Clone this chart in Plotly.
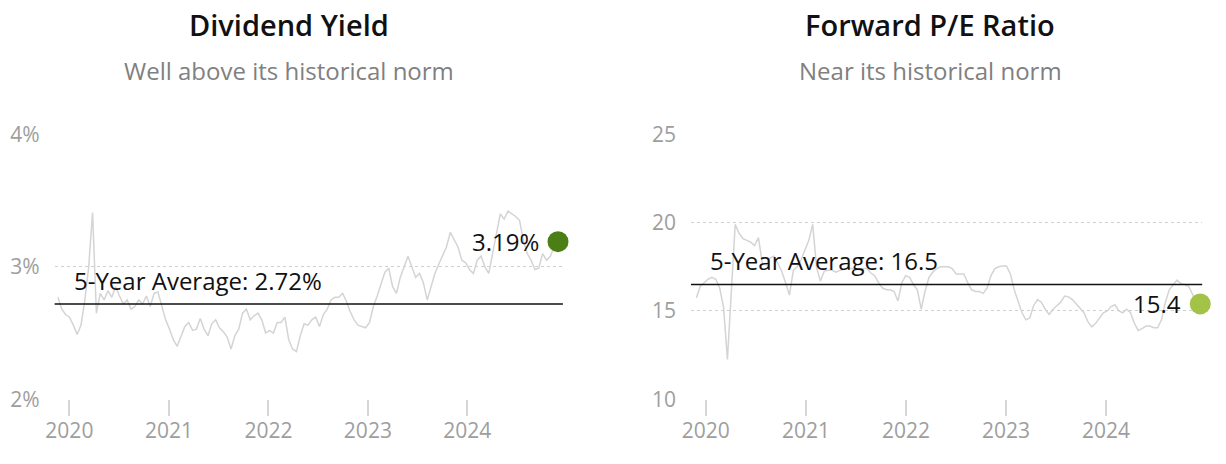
import pandas as pd
import plotly.graph_objects as go

# ---------------- data ----------------
div_dates = pd.date_range("2019-11-20", "2024-11-29", periods=131)
div_yield = [
    2.77, 2.68, 2.64, 2.62, 2.56, 2.49, 2.56, 2.75, 3.00, 3.41,
    2.65, 2.80, 2.75, 2.82, 2.77, 2.85, 2.78, 2.72, 2.75, 2.68,
    2.70, 2.75, 2.72, 2.78, 2.70, 2.80, 2.81, 2.70, 2.60, 2.53,
    2.45, 2.40, 2.47, 2.55, 2.58, 2.52, 2.53, 2.61, 2.53, 2.48,
    2.57, 2.60, 2.54, 2.51, 2.47, 2.38, 2.48, 2.53, 2.65, 2.68,
    2.60, 2.63, 2.65, 2.60, 2.50, 2.52, 2.50, 2.58, 2.58, 2.62,
    2.45, 2.38, 2.36, 2.48, 2.57, 2.56, 2.60, 2.62, 2.55, 2.64,
    2.68, 2.75, 2.77, 2.77, 2.80, 2.74, 2.66, 2.60, 2.56, 2.55,
    2.54, 2.58, 2.70, 2.78, 2.88, 2.96, 2.99, 2.85, 2.80, 2.92,
    3.00, 3.08, 3.00, 2.92, 2.95, 2.88, 2.75, 2.85, 2.95, 3.02,
    3.08, 3.15, 3.26, 3.20, 3.15, 3.05, 3.03, 2.98, 2.95, 3.05,
    3.08, 3.00, 2.95, 3.10, 3.25, 3.40, 3.36, 3.42, 3.40, 3.38,
    3.35, 3.20, 3.10, 3.05, 2.98, 2.99, 3.10, 3.05, 3.08, 3.15,
    3.19,
]
div_avg = 2.72
div_last_label = "3.19%"
div_ticks = [2, 3, 4]
div_tick_labels = ["2%", "3%", "4%"]

pe_dates = pd.date_range("2019-11-28", "2024-12-10", periods=131)
pe_ratio = [
    15.75, 16.4, 16.6, 16.8, 16.9, 16.8, 16.3, 15.2, 12.26, 16.3,
    19.9, 19.4, 19.1, 19.0, 18.9, 18.7, 19.15, 17.7, 17.6, 18.0,
    18.1, 17.7, 17.25, 16.6, 15.9, 17.3, 17.5, 17.9, 18.5, 19.0,
    19.9, 17.45, 16.7, 17.26, 17.3, 17.3, 17.2, 17.3, 17.35, 17.4,
    17.4, 17.35, 17.35, 17.4, 17.4, 17.15, 17.0, 16.6, 16.3, 16.2,
    16.2, 16.1, 15.57, 16.6, 17.0, 16.9, 16.5, 16.2, 15.1, 16.13,
    16.9, 17.2, 17.4, 17.5, 17.5, 17.5, 17.4, 17.1, 17.1, 17.1,
    16.6, 16.2, 16.1, 16.1, 16.0, 16.3, 17.0, 17.4, 17.5, 17.55,
    17.55, 17.1, 16.2, 15.5, 14.9, 14.5, 14.6, 15.3, 15.65, 15.5,
    15.1, 14.8, 15.1, 15.3, 15.5, 15.85, 15.8, 15.65, 15.4, 15.1,
    14.9, 14.4, 14.1, 14.3, 14.6, 14.9, 15.0, 15.25, 15.35, 15.0,
    14.9, 15.1, 14.9, 14.3, 13.9, 14.0, 14.15, 14.15, 14.05, 14.05,
    14.5, 15.5, 16.2, 16.5, 16.75, 16.55, 16.5, 16.4, 15.95, 15.6,
    15.4,
]
pe_avg = 16.5
pe_last_label = "15.4"
pe_ticks = [10, 15, 20, 25]
pe_tick_labels = ["10", "15", "20", "25"]

titles = ["Dividend Yield", "Forward P/E Ratio"]
subtitles = ["Well above its historical norm", "Near its historical norm"]

# ---------------- style ----------------
W, H = 1226, 464
FONT = "Open Sans"
LINE_GREY = "#d4d4d4"
GRID = "#cfcfcf"
TICK_TXT = "#9e9e9e"
DOT_COLORS = ["#4b7f16", "#a2c348"]
X_RANGE = ["2019-11-08", "2024-12-17"]

fig = go.Figure()

panels = [
    dict(dates=div_dates, vals=div_yield, avg=div_avg, avg_label=f"5-Year Average: {div_avg:.2f}%",
         last=div_last_label, ticks=div_ticks, tlabels=div_tick_labels, yr=[2, 4],
         xax="x", yax="y", xdom=[46 / W, 558 / W], yshift=23),
    dict(dates=pe_dates, vals=pe_ratio, avg=pe_avg, avg_label=f"5-Year Average: {pe_avg}",
         last=pe_last_label, ticks=pe_ticks, tlabels=pe_tick_labels, yr=[10, 25],
         xax="x2", yax="y2", xdom=[687 / W, 1202 / W], yshift=24),
]

ydom = [1 - 409 / H, 1 - 127 / H]
title_x = [282 / W, 928 / W]

for i, p in enumerate(panels):
    fig.add_trace(go.Scatter(
        x=p["dates"], y=p["vals"], mode="lines",
        line=dict(color=LINE_GREY, width=1.5),
        xaxis=p["xax"], yaxis=p["yax"], hoverinfo="skip", showlegend=False,
    ))
    fig.add_trace(go.Scatter(
        x=[p["dates"][-1]], y=[p["vals"][-1]], mode="markers",
        marker=dict(size=21, color=DOT_COLORS[i]),
        xaxis=p["xax"], yaxis=p["yax"], cliponaxis=False, showlegend=False,
    ))
    xref_dom = p["xax"] + " domain"
    fig.add_shape(type="line", xref=xref_dom, x0=0, x1=1, yref=p["yax"],
                  y0=p["avg"], y1=p["avg"], line=dict(color="#111111", width=1.6))
    fig.add_annotation(xref=xref_dom, x=0.034, yref=p["yax"], y=p["avg"],
                       text=p["avg_label"], showarrow=False, xanchor="left",
                       yanchor="middle", yshift=p["yshift"],
                       font=dict(family=FONT, size=24, color="#111111"))
    fig.add_annotation(xref=p["xax"], x=p["dates"][-1], yref=p["yax"], y=p["vals"][-1],
                       text=p["last"], showarrow=False, xanchor="right",
                       yanchor="middle", xshift=-17,
                       font=dict(family=FONT, size=24, color="#111111"))
    fig.add_annotation(xref="paper", x=title_x[i], yref="paper", y=1 - 10 / H,
                       text=titles[i], showarrow=False, xanchor="center", yanchor="middle",
                       font=dict(family=FONT, size=29, color="#111111", weight=600))
    fig.add_annotation(xref="paper", x=title_x[i], yref="paper", y=1 - 59 / H,
                       text=subtitles[i], showarrow=False, xanchor="center", yanchor="middle",
                       font=dict(family=FONT, size=24, color="#808080"))

    axn = "" if i == 0 else "2"
    fig.update_layout(**{
        f"xaxis{axn}": dict(
            domain=p["xdom"], range=X_RANGE, type="date",
            tick0="2020-01-01", dtick="M12", tickformat="%Y",
            showgrid=False, zeroline=False, showline=False,
            ticks="outside", ticklen=16, tickwidth=1.5, tickcolor="#d6d6d6",
            ticklabelstandoff=-4,
            tickfont=dict(family=FONT, size=21, color=TICK_TXT),
            anchor=p["yax"], fixedrange=True,
        ),
        f"yaxis{axn}": dict(
            domain=ydom, range=p["yr"], tickvals=p["ticks"], ticktext=p["tlabels"],
            showgrid=True, gridcolor=GRID, griddash="dot", gridwidth=1,
            zeroline=False, showline=False, ticks="", ticklabelstandoff=14,
            tickfont=dict(family=FONT, size=21, color=TICK_TXT),
            anchor=p["xax"], fixedrange=True,
        ),
    })

fig.update_layout(
    width=W, height=H,
    margin=dict(l=0, r=0, t=0, b=0),
    paper_bgcolor="white", plot_bgcolor="white",
    showlegend=False,
    font=dict(family=FONT),
)

fig.write_html(
    "out.html",
    config={"displayModeBar": False},
    post_script="document.body.style.margin='0';document.body.style.overflow='hidden';",
)
